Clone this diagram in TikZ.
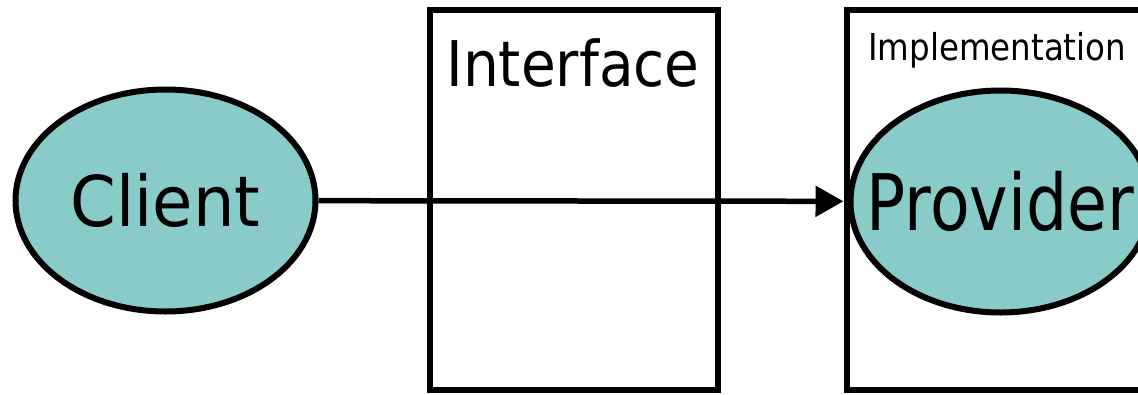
\documentclass[tikz,border=0pt]{standalone}
\usepackage{fontspec}
\setmainfont{DejaVu Sans}
\usetikzlibrary{shapes.geometric,arrows.meta}
\definecolor{tealfill}{RGB}{137,203,200}
\tikzset{
  blob/.style={ellipse, draw=black, fill=tealfill, line width=6pt, minimum width=300pt, minimum height=222pt, inner sep=0pt},
  frame/.style={draw=black, line width=6pt, rectangle, inner sep=0pt},
  lbl/.style={inner sep=0pt, anchor=base},
  conn/.style={line width=5.5pt, -{Triangle[length=28pt,width=30pt]}}
}
\begin{document}
\begin{tikzpicture}[x=1pt,y=-1pt]
\useasboundingbox (0,0) rectangle (1138,394);
\clip (0,0) rectangle (1138,394);
\node[frame, minimum width=288pt, minimum height=380pt] (iface) at (574,200) {};
\node[frame, minimum width=353pt, minimum height=380pt] (impl) at (1023.5,200) {};
\node[lbl] (ifacelbl) at (573,86) {\fontsize{63}{70}\selectfont\scalebox{0.898}[1]{Interface}};
\node[lbl, anchor=base west] (impllbl) at (868,60) {\fontsize{37}{44}\selectfont\scalebox{0.878}[1]{Implementation}};
\node[blob] (client) at (165.5,200.5) {\makebox[0pt]{\fontsize{70}{80}\selectfont\scalebox{0.936}[1]{Client}}};
\node[blob] (provider) at (1000.5,201.5) {\makebox[0pt]{\fontsize{78}{90}\selectfont\scalebox{0.832}[1]{Provider}}};
\draw[conn, shorten >=4pt] (client) -- (provider);
\end{tikzpicture}
\end{document}
